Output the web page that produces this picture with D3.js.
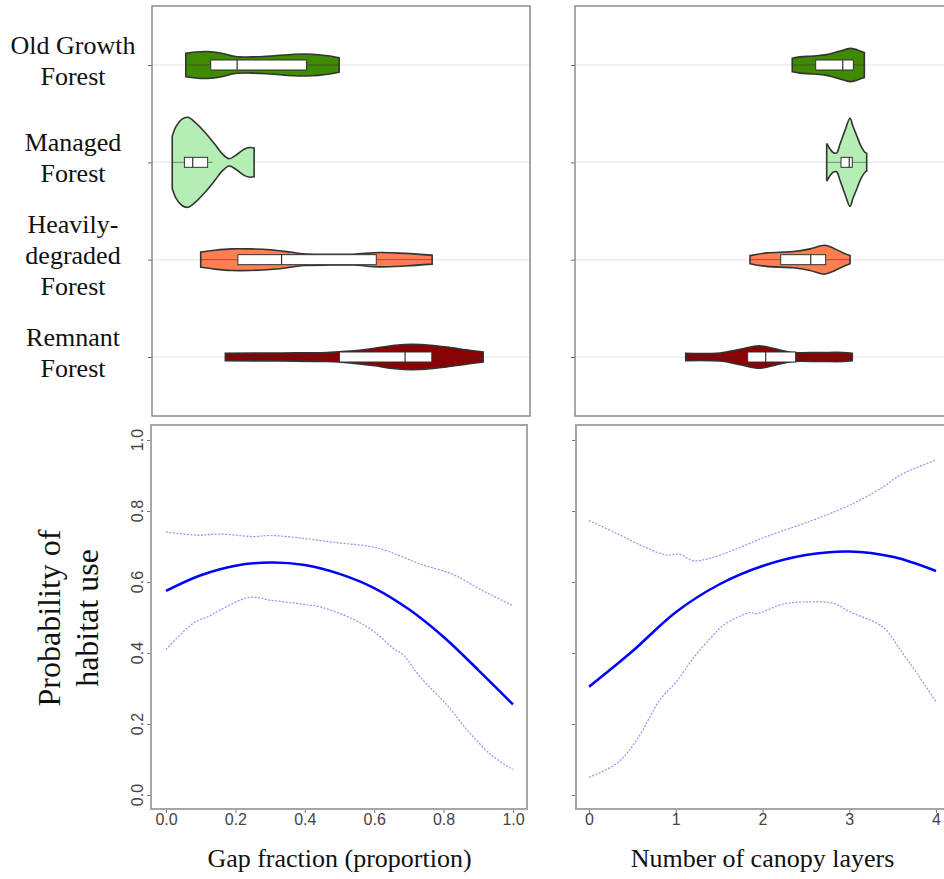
<!DOCTYPE html>
<html>
<head>
<meta charset="utf-8">
<script src="https://cdn.jsdelivr.net/npm/d3@7"></script>
<style>
  body { margin: 0; background: #fff; }
  svg { display: block; }
</style>
</head>
<body>
<div class="container"></div>
<script>

// forest types, top to bottom
const categories = ['Old Growth Forest', 'Managed Forest', 'Heavily-degraded Forest', 'Remnant Forest'];
const categoryLines = [['Old Growth', 'Forest'], ['Managed', 'Forest'], ['Heavily-', 'degraded', 'Forest'], ['Remnant', 'Forest']];
const fills = ['#3f8a00', '#b4eeb4', '#ff7f50', '#8b0000'];

// violin outlines: [value, relative density]
const gapDensity = [
  [[0.057, 0.26], [0.085, 0.29], [0.12, 0.30], [0.16, 0.26], [0.2, 0.19], [0.25, 0.18], [0.3, 0.20], [0.37, 0.24], [0.42, 0.24], [0.46, 0.21], [0.499, 0.16]],
  [[0.018, 0.58], [0.029, 0.80], [0.046, 0.96], [0.063, 1.0], [0.084, 0.89], [0.112, 0.67], [0.141, 0.40], [0.161, 0.20], [0.182, 0.08], [0.202, 0.16], [0.225, 0.29], [0.242, 0.33], [0.254, 0.32]],
  [[0.10, 0.17], [0.141, 0.21], [0.19, 0.24], [0.242, 0.24], [0.30, 0.22], [0.357, 0.17], [0.395, 0.13], [0.473, 0.12], [0.539, 0.12], [0.617, 0.16], [0.689, 0.14], [0.767, 0.10]],
  [[0.171, 0.08], [0.329, 0.09], [0.463, 0.10], [0.53, 0.13], [0.597, 0.19], [0.66, 0.26], [0.712, 0.28], [0.761, 0.26], [0.809, 0.22], [0.865, 0.16], [0.914, 0.11]]
];
const canopyDensity = [
  [[2.343, 0.15], [2.432, 0.18], [2.586, 0.20], [2.74, 0.23], [2.893, 0.31], [3.009, 0.37], [3.101, 0.33], [3.174, 0.28]],
  [[2.74, 0.42], [2.767, 0.33], [2.813, 0.22], [2.855, 0.21], [2.893, 0.40], [2.951, 0.71], [3.009, 0.98], [3.043, 0.80], [3.089, 0.58], [3.135, 0.36], [3.182, 0.22], [3.201, 0.20]],
  [[1.856, 0.09], [2.048, 0.15], [2.355, 0.18], [2.548, 0.24], [2.72, 0.32], [2.836, 0.24], [2.931, 0.15], [3.009, 0.09]],
  [[1.115, 0.08], [1.51, 0.09], [1.741, 0.17], [1.96, 0.25], [2.144, 0.18], [2.355, 0.10], [2.663, 0.10], [2.931, 0.10], [3.035, 0.08]]
];

// boxes: [low whisker, q1, median, q3, high whisker]
const gapBoxes = [
  [0.057, 0.129, 0.205, 0.405, 0.499],
  [0.018, 0.053, 0.077, 0.12, 0.135],
  [0.10, 0.207, 0.333, 0.606, 0.767],
  [0.171, 0.50, 0.689, 0.766, 0.914]
];
const canopyBoxes = [
  [2.343, 2.613, 2.925, 3.047, 3.174],
  [2.74, 2.905, 3.0, 3.035, 3.201],
  [1.856, 2.21, 2.556, 2.728, 3.009],
  [1.115, 1.829, 2.037, 2.382, 3.035]
];

// fitted probability of habitat use with confidence band
const gapFit = [[0, 0.575], [0.1, 0.619], [0.2, 0.646], [0.3, 0.655], [0.4, 0.648], [0.5, 0.623], [0.6, 0.583], [0.7, 0.523], [0.8, 0.445], [0.9, 0.352], [1.0, 0.255]];
const gapUpper = [[0, 0.741], [0.088, 0.732], [0.156, 0.735], [0.252, 0.728], [0.3, 0.731], [0.396, 0.723], [0.49, 0.711], [0.588, 0.70], [0.636, 0.688], [0.732, 0.651], [0.828, 0.621], [0.886, 0.59], [0.94, 0.562], [1.0, 0.533]];
const gapLower = [[0, 0.41], [0.079, 0.484], [0.127, 0.505], [0.156, 0.521], [0.242, 0.557], [0.3, 0.549], [0.396, 0.537], [0.444, 0.53], [0.54, 0.495], [0.6, 0.46], [0.655, 0.413], [0.684, 0.394], [0.732, 0.333], [0.809, 0.254], [0.876, 0.174], [0.943, 0.108], [1.0, 0.072]];

const canopyFit = [[0, 0.305], [0.5, 0.405], [1, 0.515], [1.5, 0.593], [2, 0.645], [2.5, 0.676], [3, 0.686], [3.5, 0.671], [4, 0.631]];
const canopyUpper = [[0, 0.773], [0.318, 0.737], [0.626, 0.70], [0.895, 0.676], [1.05, 0.678], [1.2, 0.66], [1.395, 0.667], [1.663, 0.69], [2.048, 0.728], [2.432, 0.761], [2.625, 0.778], [3.009, 0.817], [3.393, 0.868], [3.585, 0.901], [4.0, 0.944]];
const canopyLower = [[0, 0.05], [0.318, 0.089], [0.55, 0.155], [0.818, 0.268], [1.01, 0.32], [1.2, 0.385], [1.395, 0.44], [1.548, 0.478], [1.75, 0.505], [1.856, 0.514], [1.933, 0.511], [2.24, 0.538], [2.51, 0.544], [2.816, 0.54], [3.009, 0.516], [3.393, 0.472], [3.585, 0.41], [3.78, 0.343], [4.0, 0.263]];

const gapTicks = [0, 0.2, 0.4, 0.6, 0.8, 1.0];
const canopyTicks = [0, 1, 2, 3, 4];
const probTicks = [0, 0.2, 0.4, 0.6, 0.8, 1.0];

const serif = "'Liberation Serif', serif";
const sans = "'Liberation Sans', sans-serif";

const renderChart = () => {

  const width = 944;
  const height = 879;

  const gapX = d3.scaleLinear().domain([0, 1]).range([166, 513]);
  const canopyX = d3.scaleLinear().domain([0, 4]).range([589, 936]);
  const probY = d3.scaleLinear().domain([0, 1]).range([795, 440]);
  const catY = d3.scalePoint().domain(categories).range([65, 357]);
  const halfWidth = d3.scaleLinear().domain([0, 1]).range([0, 45]);

  const svg = d3.select('.container')
    .append('svg')
    .attr('width', width)
    .attr('height', height)
    .style('background', '#fff');

  // ---- top panels (violins) ----
  const topPanel = (left, right, xScale, densities, boxes) => {
    const g = svg.append('g');

    g.selectAll('line.grid')
      .data(categories)
      .enter()
      .append('line')
      .attr('class', 'grid')
      .attr('x1', left).attr('x2', right)
      .attr('y1', d => catY(d)).attr('y2', d => catY(d))
      .attr('stroke', '#ececec')
      .attr('stroke-width', 1.5);

    g.append('g')
      .attr('transform', `translate(${left},0)`)
      .call(d3.axisLeft(catY).tickFormat('').tickSize(4).tickSizeOuter(0))
      .call(a => a.select('.domain').remove())
      .call(a => a.selectAll('line').attr('stroke', '#666'));

    const area = cy => d3.area()
      .x(d => xScale(d[0]))
      .y0(d => cy - halfWidth(d[1]))
      .y1(d => cy + halfWidth(d[1]))
      .curve(d3.curveCatmullRom.alpha(0.5));

    g.selectAll('path.violin')
      .data(categories)
      .enter()
      .append('path')
      .attr('class', 'violin')
      .attr('d', (d, i) => area(catY(d))(densities[i]))
      .attr('fill', (d, i) => fills[i])
      .attr('stroke', '#333')
      .attr('stroke-width', 1.6);

    // whisker line through the violin
    g.selectAll('line.whisker')
      .data(categories)
      .enter()
      .append('line')
      .attr('class', 'whisker')
      .attr('x1', (d, i) => xScale(boxes[i][0]))
      .attr('x2', (d, i) => xScale(boxes[i][4]))
      .attr('y1', d => catY(d)).attr('y2', d => catY(d))
      .attr('stroke', '#333')
      .attr('stroke-opacity', 0.55)
      .attr('stroke-width', 1);

    g.selectAll('rect.box')
      .data(categories)
      .enter()
      .append('rect')
      .attr('class', 'box')
      .attr('x', (d, i) => xScale(boxes[i][1]))
      .attr('width', (d, i) => xScale(boxes[i][3]) - xScale(boxes[i][1]))
      .attr('y', d => catY(d) - 5)
      .attr('height', 10)
      .attr('fill', '#fff')
      .attr('stroke', '#333')
      .attr('stroke-width', 1);

    g.selectAll('line.median')
      .data(categories)
      .enter()
      .append('line')
      .attr('class', 'median')
      .attr('x1', (d, i) => xScale(boxes[i][2]))
      .attr('x2', (d, i) => xScale(boxes[i][2]))
      .attr('y1', d => catY(d) - 5).attr('y2', d => catY(d) + 5)
      .attr('stroke', '#333')
      .attr('stroke-width', 1.2);

    g.append('rect')
      .attr('x', left).attr('y', 6)
      .attr('width', right - left).attr('height', 410)
      .attr('fill', 'none')
      .attr('stroke', '#8a8a8a')
      .attr('stroke-width', 1.5);
  };

  topPanel(152, 530, gapX, gapDensity, gapBoxes);
  topPanel(575, 960, canopyX, canopyDensity, canopyBoxes);

  // category labels
  svg.selectAll('text.cat')
    .data(categories)
    .enter()
    .append('text')
    .attr('class', 'cat')
    .attr('text-anchor', 'middle')
    .style('font-family', serif)
    .style('font-size', '26px')
    .attr('fill', '#111')
    .each(function (d, i) {
      const lines = categoryLines[i];
      d3.select(this).selectAll('tspan')
        .data(lines)
        .enter()
        .append('tspan')
        .attr('x', 73)
        .attr('y', (l, j) => catY(d) + 4 + (j - (lines.length - 1) / 2) * 31)
        .text(l => l);
    });

  // ---- bottom panels (fitted curves) ----
  const bottomPanel = (left, right, xScale, ticks, fmt, showY, fit, upper, lower, title) => {
    const g = svg.append('g');

    const line = d3.line()
      .x(d => xScale(d[0]))
      .y(d => probY(d[1]))
      .curve(d3.curveCatmullRom.alpha(0.5));

    [upper, lower].forEach(band => {
      g.append('path')
        .attr('d', line(band))
        .attr('fill', 'none')
        .attr('stroke', '#7777ff')
        .attr('stroke-opacity', 0.8)
        .attr('stroke-width', 1.2)
        .attr('stroke-dasharray', '2,1.5');
    });

    g.append('path')
      .attr('d', line(fit))
      .attr('fill', 'none')
      .attr('stroke', '#0000ff')
      .attr('stroke-width', 2.5);

    g.append('g')
      .attr('transform', 'translate(0,809)')
      .call(d3.axisBottom(xScale).tickValues(ticks).tickFormat(fmt).tickSize(4).tickPadding(1).tickSizeOuter(0))
      .call(a => a.select('.domain').remove())
      .call(a => a.selectAll('line').attr('stroke', '#777'))
      .call(a => a.selectAll('text')
        .style('font-family', sans)
        .style('font-size', '16px')
        .attr('fill', '#444'));

    g.append('g')
      .attr('transform', `translate(${left},0)`)
      .call(d3.axisLeft(probY).tickValues(probTicks).tickFormat('').tickSize(4).tickSizeOuter(0))
      .call(a => a.select('.domain').remove())
      .call(a => a.selectAll('line').attr('stroke', '#777'));

    if (showY) {
      g.selectAll('text.ylab')
        .data(probTicks)
        .enter()
        .append('text')
        .attr('class', 'ylab')
        .attr('transform', d => `translate(137,${probY(d)}) rotate(-90)`)
        .attr('text-anchor', 'middle')
        .attr('dy', '0.36em')
        .style('font-family', sans)
        .style('font-size', '16px')
        .attr('fill', '#444')
        .text(d3.format('.1f'));
    }

    g.append('rect')
      .attr('x', left).attr('y', 425)
      .attr('width', right - left).attr('height', 384)
      .attr('fill', 'none')
      .attr('stroke', '#a6a6a6')
      .attr('stroke-width', 2);

    g.append('text')
      .attr('x', (xScale.range()[0] + xScale.range()[1]) / 2)
      .attr('y', 867)
      .attr('text-anchor', 'middle')
      .style('font-family', serif)
      .style('font-size', '26px')
      .attr('fill', '#111')
      .text(title);
  };

  bottomPanel(151, 527, gapX, gapTicks, d3.format('.1f'), true, gapFit, gapUpper, gapLower, 'Gap fraction (proportion)');
  bottomPanel(576, 960, canopyX, canopyTicks, d3.format('d'), false, canopyFit, canopyUpper, canopyLower, 'Number of canopy layers');

  // y axis title
  svg.append('text')
    .attr('transform', 'translate(0,618) rotate(-90)')
    .attr('text-anchor', 'middle')
    .style('font-family', serif)
    .style('font-size', '32px')
    .attr('fill', '#111')
    .selectAll('tspan')
    .data(['Probability of', 'habitat use'])
    .enter()
    .append('tspan')
    .attr('x', 0)
    .attr('y', (d, i) => 60 + i * 38)
    .text(d => d);
};

renderChart();
</script>
</body>
</html>
